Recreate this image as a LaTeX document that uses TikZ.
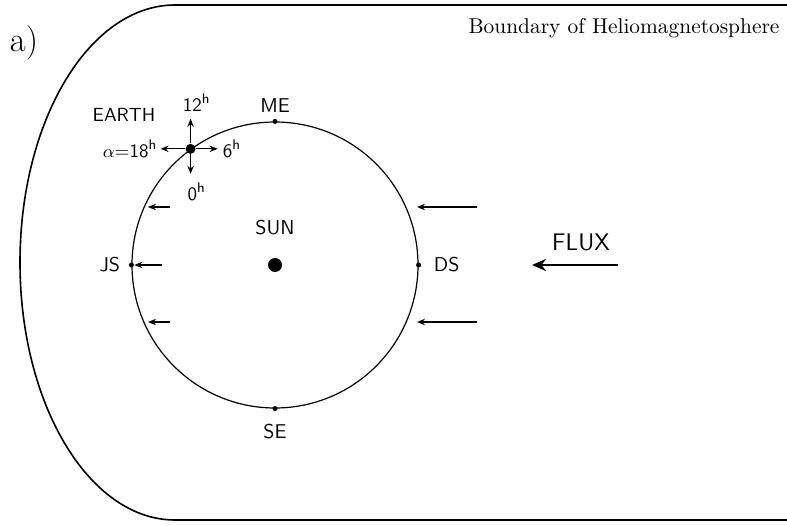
\documentclass[tikz,border=0pt]{standalone}
\usepackage{amsmath, amssymb}
\usetikzlibrary{arrows.meta, positioning}

\begin{document}
\begin{tikzpicture}[
        x=0.5pt, y=0.5pt,
        lbl/.style={font=\sffamily, inner sep=1pt},
        small/.style={font=\sffamily\fontsize{9.5}{11}\selectfont, inner sep=1pt},
        tick/.style={circle, fill, inner sep=0pt, minimum size=2.5pt},
        arrow/.style={-{Stealth[length=4pt, width=3.2pt]}, semithick},
        bigarrow/.style={-{Stealth[length=7pt, width=6pt]}, line width=1pt}
    ]
        \useasboundingbox (0,0) rectangle (787,525);

        % Boundary
        \draw[line width=0.8pt] (787,520) -- (175,520)
            arc[start angle=90, end angle=270, x radius=155, y radius=257.5] -- (787,5);
        \node[font=\LARGE] (panel) at (24,482) {a)};
        \node[inner sep=1pt, font=\fontsize{10.7}{12}\selectfont] (bound) at (624,497) {Boundary of Heliomagnetosphere};

        % Sun and orbit
        \node[circle, fill, inner sep=0pt, minimum size=7pt] (sun) at (275,260) {};
        \node[circle, draw, line width=0.6pt, minimum size=143pt, inner sep=0pt] (orbit) at (sun) {};
        \node[tick] (me) at (orbit.north) {};
        \node[tick] (se) at (orbit.south) {};
        \node[tick] (js) at (orbit.west) {};
        \node[tick] (ds) at (orbit.east) {};
        \node[circle, fill, inner sep=0pt, minimum size=5pt] (earth) at (orbit.126.5) {};

        % Labels
        \node[lbl, above=2pt of me] {ME};
        \node[lbl, below=5pt of se] {SE};
        \node[lbl, left=3pt of js] {JS};
        \node[lbl, right=5pt of ds] {DS};
        \node[lbl, above=10pt of sun] {SUN};

        % Earth directions
        \coordinate[above=15pt of earth.center] (e12);
        \coordinate[right=13.5pt of earth.center] (e6);
        \coordinate[left=15pt of earth.center] (e18);
        \coordinate[below=12.5pt of earth.center] (e0);
        \draw[arrow] (earth) -- (e12);
        \draw[arrow] (earth) -- (e6);
        \draw[arrow] (earth) -- (e18);
        \draw[arrow] (earth) -- (e0);
        \node[small, above=2.5pt of e12, xshift=3pt] (h12) {12$^{\mathsf h}$};
        \node[small, right=1.5pt of e6] (h6) {6$^{\mathsf h}$};
        \node[small, left=0.5pt of e18] (h18) {$\alpha$=18$^{\mathsf h}$};
        \node[small, below=3.5pt of e0, xshift=3pt] (h0) {0$^{\mathsf h}$};
        \node[small, above=7pt of h18, xshift=-3pt] (earthlbl) {EARTH};

        % Flux arrows, left side
        \coordinate (wl1) at (170,318);
        \coordinate (wl1h) at (148,318);
        \coordinate (wl2) at (162,260);
        \coordinate (wl3) at (170,203);
        \coordinate (wl3h) at (148,203);
        \draw[arrow] (wl1) -- (wl1h);
        \draw[arrow] (wl2) -- (js);
        \draw[arrow] (wl3) -- (wl3h);

        % Flux arrows, right side
        \coordinate (wr1) at (477,318);
        \coordinate (wr1h) at (417,318);
        \coordinate (wr3) at (477,203);
        \coordinate (wr3h) at (417,203);
        \draw[arrow] (wr1) -- (wr1h);
        \draw[arrow] (wr3) -- (wr3h);

        % Main flux
        \coordinate (fl) at (618,260);
        \coordinate (flh) at (532,260);
        \draw[bigarrow] (fl) -- (flh);
        \node[lbl, font=\sffamily\large] (flux) at (581,283) {FLUX};
    \end{tikzpicture}
\end{document}
